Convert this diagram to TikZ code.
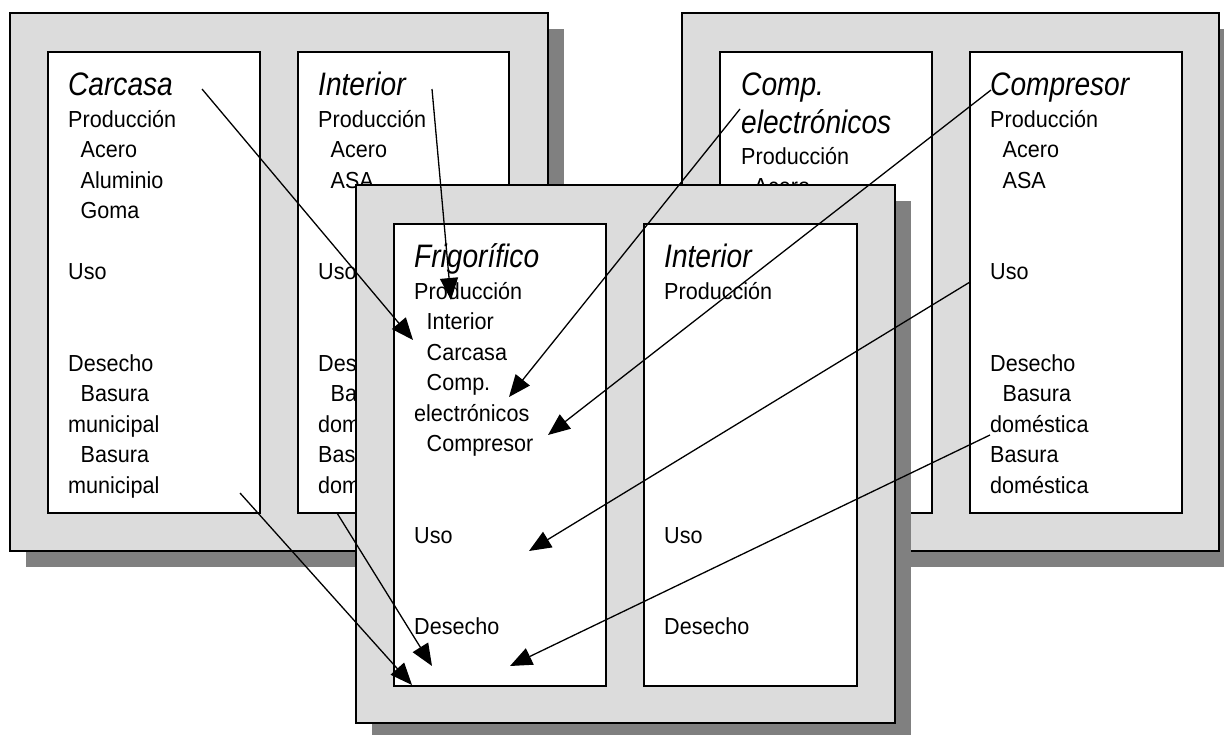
\documentclass[tikz,border=0pt]{standalone}
\usepackage{fontspec}
\setmainfont{Liberation Sans}
\newfontfamily\bodyfont[FakeStretch=0.93]{Liberation Sans}
\newfontfamily\titlefont[FakeStretch=0.865]{Liberation Sans}
\usetikzlibrary{arrows.meta}
\definecolor{panelgray}{RGB}{220,220,220}
\definecolor{shadowgray}{RGB}{128,128,128}
\newcommand\ind{\hspace*{12.5pt}}
\newcommand\mylines[5]{%
  \foreach \k/\t in {#5} {\node[txt] (#1\k) at (#2,{#3+#4*\k}) {\t};}}
\begin{document}
\begin{tikzpicture}[x=1pt,y=-1pt,
  panel/.style={draw=black,line width=1.4pt,fill=panelgray},
  shade/.style={fill=shadowgray,draw=none},
  inbox/.style={draw=black,line width=1.4pt,fill=white},
  txt/.style={anchor=base west,inner sep=0pt,font=\bodyfont\fontsize{23.2pt}{28pt}\selectfont},
  ttl/.style={anchor=base west,inner sep=0pt,font=\titlefont\fontsize{32.5pt}{38pt}\selectfont\itshape},
  link/.style={line width=1.3pt,-{Triangle[length=22pt,width=18pt]}}]
\useasboundingbox (0,0) rectangle (1224,734);
\fill[white] (0,0) rectangle (1224,734);
% ---------- left panel ----------
\path[shade] (26,29) rectangle (564,567);
\path[panel] (10,13) rectangle (548,551);
\path[inbox] (48,52) rectangle (260,513);
\path[inbox] (298,52) rectangle (509,513);
\node[ttl] (tA) at (68,95) {Carcasa};
\mylines{a}{68}{127}{30.5}{0/Producción,1/\ind Acero,2/\ind Aluminio,3/\ind Goma,5/Uso,8/Desecho,9/\ind Basura,10/municipal,11/\ind Basura,12/municipal}
\node[ttl] (tB) at (318,95) {Interior};
\mylines{b}{318}{127}{30.5}{0/Producción,1/\ind Acero,2/\ind ASA,5/Uso,8/Desecho,9/\ind Basura,10/doméstica,11/Basura,12/doméstica}
% ---------- right panel ----------
\path[shade] (698,29) rectangle (1235,567);
\path[panel] (682,13) rectangle (1219,551);
\path[inbox] (720,52) rectangle (932,513);
\path[inbox] (970,52) rectangle (1182,513);
\node[ttl] (tC1) at (741,95) {Comp.};
\node[ttl] (tC2) at (741,133) {electrónicos};
\mylines{c}{741}{164}{30.5}{0/Producción,1/\ind Acero}
\node[ttl] (tD) at (990,95) {Compresor};
\mylines{d}{990}{127}{30.5}{0/Producción,1/\ind Acero,2/\ind ASA,5/Uso,8/Desecho,9/\ind Basura,10/doméstica,11/Basura,12/doméstica}
% ---------- front panel ----------
\path[shade] (372,201) rectangle (911,739);
\path[panel] (356,185) rectangle (895,723);
\path[inbox] (394,224) rectangle (606,686);
\path[inbox] (644,224) rectangle (857,686);
\node[ttl] (tF) at (414,267) {Frigorífico};
\mylines{f}{414}{299}{30.5}{0/Producción,1/\ind Interior,2/\ind Carcasa,3/\ind Comp.,4/electrónicos,5/\ind Compresor,8/Uso,11/Desecho}
\node[ttl] (tI) at (664,267) {Interior};
\mylines{g}{664}{299}{30.5}{0/Producción,8/Uso,11/Desecho}
% ---------- arrows ----------
\coordinate (s1) at (202,89);  \coordinate (e1) at (413,340);
\coordinate (s2) at (432,89);  \coordinate (e2) at (451,300);
\coordinate (s3) at (740,109); \coordinate (e3) at (509,397);
\coordinate (s4) at (991,90);  \coordinate (e4) at (548,435);
\coordinate (s5) at (970,282); \coordinate (e5) at (529,551);
\coordinate (s6) at (990,435); \coordinate (e6) at (510,666);
\coordinate (s7) at (240,493); \coordinate (e7) at (412,685);
\coordinate (s8) at (337,513); \coordinate (e8) at (432,666);
\foreach \n in {1,...,8} {\draw[link] (s\n) -- (e\n);}
\end{tikzpicture}
\end{document}
